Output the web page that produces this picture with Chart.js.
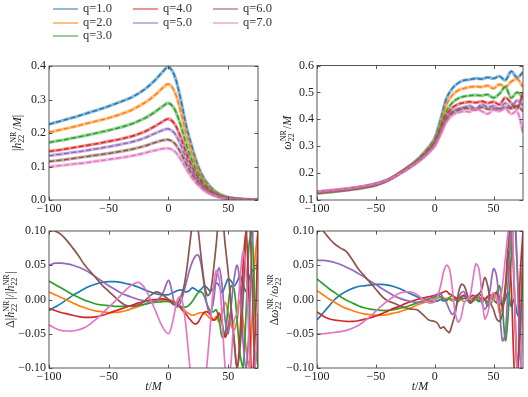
<!DOCTYPE html>
<html>
<head>
<meta charset="utf-8">
<script src="https://cdn.jsdelivr.net/npm/chart.js@4.4.1/dist/chart.umd.min.js"></script>
<style>
  body { margin: 0; background: #fff; }
  #wrap { position: relative; width: 528px; height: 397px; overflow: hidden; }
  #wrap canvas { position: absolute; left: 0; top: 0; }
  .leg { position: absolute; font-family: "Liberation Serif", "DejaVu Serif", serif; font-size: 12.5px; color: #333; line-height: 12px; white-space: nowrap; }
  .leg span { display: inline-block; width: 25px; height: 0; border-top: 2px solid; vertical-align: middle; margin-right: 5px; }
</style>
</head>
<body>
<div id="wrap">
  <canvas id="amp" width="528" height="397"></canvas>
  <canvas id="freq" width="528" height="397"></canvas>
  <canvas id="dAmp" width="528" height="397"></canvas>
  <canvas id="dFreq" width="528" height="397"></canvas>
</div>
<script>
const labels = ['q=1.0', 'q=2.0', 'q=3.0', 'q=4.0', 'q=5.0', 'q=6.0', 'q=7.0'];
const colors = ['#1f77b4', '#ff7f0e', '#2ca02c', '#d62728', '#9467bd', '#8c564b', '#e377c2'];

// time samples (t/M)
const tTop = [-100, -90, -80, -70, -60, -50, -40, -30, -20, -15, -10, -5, 0, 5, 10, 15, 20, 25, 30, 35, 40, 45, 50, 55, 60, 65, 70, 75];
const tBot = [-100, -95, -90, -85, -80, -75, -70, -65, -60, -55, -50, -45, -40, -35, -30, -25, -20, -15, -10, -5,
  0, 2.5, 5, 7.5, 10, 12.5, 15, 17.5, 20, 22.5, 25, 27.5, 30, 32.5, 35, 37.5, 40, 42.5, 45, 47.5, 50, 52.5, 55, 57.5, 60, 62.5, 65, 67.5, 70, 72.5, 75];

// |h22| / M
const amp1 = [0.226, 0.236, 0.246, 0.257, 0.268, 0.280, 0.293, 0.308, 0.330, 0.345, 0.362, 0.382, 0.397, 0.372, 0.305, 0.22, 0.155, 0.1, 0.063, 0.04, 0.024, 0.014, 0.008, 0.005, 0.003, 0.002, 0.001, 0.001];
const amp2 = [0.202, 0.210, 0.218, 0.227, 0.236, 0.245, 0.256, 0.270, 0.290, 0.302, 0.317, 0.334, 0.346, 0.325, 0.268, 0.195, 0.137, 0.09, 0.056, 0.035, 0.021, 0.012, 0.007, 0.004, 0.003, 0.002, 0.001, 0.001];
const amp3 = [0.172, 0.178, 0.185, 0.192, 0.200, 0.208, 0.217, 0.228, 0.244, 0.254, 0.266, 0.279, 0.289, 0.272, 0.226, 0.165, 0.116, 0.077, 0.048, 0.03, 0.018, 0.01, 0.006, 0.004, 0.002, 0.001, 0.001, 0.001];
const amp4 = [0.145, 0.150, 0.156, 0.162, 0.168, 0.175, 0.182, 0.191, 0.204, 0.213, 0.223, 0.234, 0.242, 0.228, 0.19, 0.14, 0.098, 0.065, 0.041, 0.026, 0.015, 0.009, 0.005, 0.003, 0.002, 0.001, 0.001, 0.001];
const amp5 = [0.132, 0.137, 0.142, 0.147, 0.153, 0.159, 0.166, 0.174, 0.185, 0.193, 0.201, 0.208, 0.212, 0.2, 0.167, 0.123, 0.087, 0.058, 0.037, 0.023, 0.014, 0.008, 0.005, 0.003, 0.002, 0.001, 0.001, 0.001];
const amp6 = [0.115, 0.119, 0.124, 0.129, 0.134, 0.139, 0.145, 0.152, 0.161, 0.167, 0.173, 0.178, 0.18, 0.17, 0.143, 0.106, 0.075, 0.05, 0.032, 0.02, 0.012, 0.007, 0.004, 0.002, 0.001, 0.001, 0.001, 0.001];
const amp7 = [0.099, 0.103, 0.107, 0.111, 0.116, 0.121, 0.126, 0.132, 0.140, 0.145, 0.149, 0.153, 0.154, 0.146, 0.123, 0.092, 0.065, 0.044, 0.028, 0.018, 0.011, 0.006, 0.004, 0.002, 0.001, 0.001, 0.001, 0.001];

// omega22 * M
const omega1 = [0.125, 0.129, 0.134, 0.139, 0.146, 0.155, 0.172, 0.2, 0.232, 0.25, 0.272, 0.298, 0.33, 0.4, 0.478, 0.515, 0.535, 0.545, 0.548, 0.552, 0.550, 0.556, 0.552, 0.560, 0.545, 0.578, 0.555, 0.575];
const omega2 = [0.126, 0.130, 0.135, 0.140, 0.147, 0.156, 0.173, 0.2, 0.23, 0.247, 0.268, 0.293, 0.322, 0.385, 0.455, 0.49, 0.508, 0.515, 0.52, 0.522, 0.52, 0.525, 0.515, 0.53, 0.52, 0.54, 0.55, 0.52];
const omega3 = [0.127, 0.131, 0.136, 0.141, 0.148, 0.157, 0.173, 0.199, 0.228, 0.245, 0.265, 0.289, 0.316, 0.372, 0.43, 0.462, 0.478, 0.485, 0.488, 0.49, 0.488, 0.492, 0.48, 0.495, 0.52, 0.48, 0.5, 0.48];
const omega4 = [0.128, 0.132, 0.137, 0.142, 0.149, 0.158, 0.174, 0.199, 0.227, 0.243, 0.262, 0.285, 0.311, 0.362, 0.415, 0.443, 0.456, 0.462, 0.465, 0.462, 0.467, 0.46, 0.465, 0.455, 0.48, 0.46, 0.44, 0.5];
const omega5 = [0.129, 0.133, 0.138, 0.143, 0.150, 0.159, 0.174, 0.198, 0.226, 0.242, 0.26, 0.282, 0.307, 0.355, 0.405, 0.43, 0.44, 0.445, 0.45, 0.44, 0.455, 0.445, 0.45, 0.44, 0.46, 0.445, 0.47, 0.45];
const omega6 = [0.13, 0.134, 0.139, 0.144, 0.151, 0.16, 0.175, 0.198, 0.225, 0.24, 0.258, 0.279, 0.303, 0.35, 0.398, 0.423, 0.433, 0.44, 0.44, 0.435, 0.445, 0.438, 0.44, 0.435, 0.445, 0.44, 0.45, 0.43];
const omega7 = [0.131, 0.135, 0.140, 0.145, 0.152, 0.161, 0.175, 0.197, 0.224, 0.239, 0.256, 0.276, 0.3, 0.343, 0.39, 0.415, 0.425, 0.43, 0.428, 0.44, 0.43, 0.42, 0.435, 0.43, 0.44, 0.42, 0.43, 0.35];

// relative amplitude error
const dAmp1 = [-0.016, -0.011, -0.006, 0.0, 0.006, 0.011, 0.016, 0.02, 0.023, 0.025, 0.026, 0.026, 0.025, 0.023, 0.021, 0.018, 0.014, 0.011, 0.008, 0.007,
  0.007, 0.009, 0.011, 0.013, 0.014, 0.013, 0.011, 0.013, 0.017, 0.015, 0.012, 0.015, 0.02, 0.017, 0.012, 0.016, 0.024, 0.02, 0.01, 0.02, 0.03, 0.027, 0.02, 0.026, 0.035, 0.022, 0.012, 0.03, 0.042, 0.045, 0.047];
const dAmp2 = [0.011, 0.007, 0.003, -0.001, -0.005, -0.009, -0.012, -0.015, -0.017, -0.018, -0.019, -0.019, -0.018, -0.016, -0.013, -0.01, -0.007, -0.004, -0.002, -0.001,
  0.0, -0.001, -0.003, -0.006, -0.01, -0.014, -0.018, -0.021, -0.023, -0.022, -0.02, -0.019, -0.02, -0.023, -0.028, -0.03, -0.025, -0.033, -0.02, -0.004, -0.02, -0.038, -0.045, -0.03, 0.0, -0.03, -0.07, -0.097, -0.03, 0.06, 0.1];
const dAmp3 = [0.027, 0.022, 0.017, 0.012, 0.007, 0.003, -0.001, -0.004, -0.007, -0.008, -0.009, -0.01, -0.01, -0.01, -0.009, -0.008, -0.007, -0.005, -0.004, -0.003,
  -0.003, -0.004, -0.006, -0.008, -0.01, -0.011, -0.011, -0.008, -0.003, 0.004, 0.01, 0.011, 0.005, -0.008, -0.016, -0.018, -0.015, -0.03, -0.055, -0.05, -0.01, 0.02, 0.015, -0.03, -0.08, -0.1, -0.02, 0.08, 0.1, -0.02, -0.1];
const dAmp4 = [-0.013, -0.016, -0.019, -0.021, -0.023, -0.025, -0.026, -0.026, -0.025, -0.023, -0.02, -0.017, -0.014, -0.011, -0.008, -0.005, -0.003, -0.001, 0.0, 0.001,
  -0.001, -0.003, -0.005, -0.008, -0.012, -0.017, -0.022, -0.028, -0.033, -0.036, -0.033, -0.025, -0.019, -0.018, -0.022, -0.03, -0.028, -0.02, -0.035, -0.055, -0.04, -0.02, -0.06, -0.1, -0.05, 0.05, 0.1, 0.0, -0.12, -0.05, 0.1];
const dAmp5 = [0.05, 0.053, 0.053, 0.052, 0.05, 0.047, 0.043, 0.038, 0.032, 0.026, 0.02, 0.015, 0.01, 0.006, 0.003, 0.0, -0.002, -0.004, -0.002, 0.008,
  0.028, 0.015, -0.005, -0.011, -0.005, 0.008, 0.025, 0.042, 0.055, 0.063, 0.065, 0.05, 0.02, -0.01, -0.02, -0.005, 0.03, 0.046, 0.02, -0.03, -0.05, -0.01, 0.03, 0.05, 0.02, -0.06, -0.1, -0.04, 0.08, 0.12, 0.1];
const dAmp6 = [0.105, 0.1, 0.095, 0.086, 0.075, 0.063, 0.05, 0.04, 0.03, 0.02, 0.012, 0.004, -0.004, -0.009, -0.01, -0.008, -0.002, 0.006, 0.011, 0.007,
  0.0, -0.005, -0.008, -0.006, 0.002, 0.015, 0.04, 0.075, 0.11, 0.13, 0.1, 0.06, 0.025, 0.006, 0.01, 0.04, 0.08, 0.12, 0.12, 0.08, 0.04, -0.01, -0.06, -0.1, -0.07, 0.0, 0.09, 0.12, 0.03, -0.1, -0.05];
const dAmp7 = [-0.037, -0.042, -0.045, -0.046, -0.046, -0.044, -0.041, -0.035, -0.028, -0.02, -0.011, -0.003, 0.006, 0.015, 0.022, 0.025, 0.017, 0.0, -0.02, -0.04,
  -0.05, -0.04, -0.02, 0.0, 0.004, -0.01, -0.045, -0.09, -0.13, -0.16, -0.17, -0.16, -0.13, -0.09, -0.04, 0.015, 0.042, 0.03, -0.03, -0.1, -0.13, -0.09, -0.03, -0.02, 0.03, 0.07, 0.04, -0.06, -0.13, -0.1, -0.02];

// relative frequency error
const dFreq1 = [-0.03, -0.02, -0.01, 0.0, 0.007, 0.012, 0.016, 0.019, 0.02, 0.021, 0.022, 0.022, 0.021, 0.019, 0.016, 0.012, 0.008, 0.004, 0.001, -0.002,
  -0.003, -0.002, 0.0, -0.002, 0.0, 0.002, -0.001, 0.001, 0.003, 0.0, 0.002, 0.0, -0.003, 0.002, 0.0, -0.003, 0.002, 0.0, -0.004, 0.003, 0.0, -0.005, 0.005, -0.008, 0.0, 0.01, -0.01, 0.0, -0.02, -0.028, -0.032];
const dFreq2 = [0.013, 0.007, 0.001, -0.004, -0.009, -0.013, -0.016, -0.019, -0.021, -0.022, -0.023, -0.023, -0.022, -0.02, -0.018, -0.015, -0.012, -0.008, -0.005, -0.002,
  0.0, 0.002, 0.003, 0.001, 0.002, 0.0, -0.002, 0.001, 0.003, 0.0, -0.003, 0.0, 0.002, -0.002, 0.0, 0.003, -0.004, 0.0, 0.005, -0.005, 0.0, 0.01, -0.02, -0.01, 0.02, 0.05, 0.1, 0.02, -0.1, -0.05, 0.05];
const dFreq3 = [0.03, 0.023, 0.016, 0.01, 0.004, -0.001, -0.005, -0.009, -0.012, -0.014, -0.015, -0.016, -0.016, -0.015, -0.013, -0.011, -0.008, -0.005, -0.002, 0.001,
  0.003, 0.006, 0.004, 0.0, -0.002, 0.003, 0.005, 0.0, -0.003, 0.002, 0.006, 0.0, -0.005, 0.0, 0.005, -0.002, 0.003, 0.0, -0.01, 0.0, 0.005, 0.01, 0.02, -0.01, -0.06, -0.02, 0.06, 0.12, 0.05, -0.05, 0.05];
const dFreq4 = [-0.018, -0.024, -0.028, -0.03, -0.031, -0.032, -0.032, -0.031, -0.029, -0.027, -0.024, -0.021, -0.017, -0.013, -0.01, -0.006, -0.003, 0.0, 0.002, 0.004,
  0.006, 0.008, 0.009, 0.011, 0.012, 0.008, 0.006, 0.003, 0.0, 0.004, 0.006, 0.002, 0.003, 0.006, 0.004, 0.008, 0.005, 0.0, 0.004, 0.006, 0.008, 0.01, 0.0, -0.01, 0.01, 0.07, 0.02, -0.1, -0.15, 0.03, 0.1];
const dFreq5 = [0.057, 0.057, 0.056, 0.054, 0.051, 0.047, 0.043, 0.038, 0.033, 0.027, 0.022, 0.016, 0.011, 0.006, 0.002, -0.001, -0.003, -0.004, -0.003, 0.0,
  0.005, 0.008, 0.008, 0.002, -0.005, -0.015, -0.022, -0.015, 0.0, 0.01, 0.011, 0.002, -0.004, 0.0, 0.006, 0.005, -0.005, -0.014, -0.005, 0.02, 0.045, 0.035, -0.01, -0.06, -0.05, 0.03, 0.1, 0.14, 0.05, -0.08, -0.12];
const dFreq6 = [0.106, 0.1, 0.09, 0.081, 0.075, 0.07, 0.058, 0.045, 0.035, 0.025, 0.015, 0.005, -0.002, -0.005, -0.009, -0.012, -0.014, -0.015, -0.022, -0.03,
  -0.032, -0.035, -0.042, -0.04, -0.045, -0.048, -0.035, -0.02, 0.008, 0.022, 0.02, 0.008, -0.005, -0.002, 0.005, 0.008, 0.015, 0.032, 0.02, -0.005, -0.015, -0.028, -0.032, -0.02, 0.02, 0.08, 0.12, 0.02, -0.1, -0.05, 0.08];
const dFreq7 = [-0.05, -0.05, -0.049, -0.048, -0.047, -0.045, -0.042, -0.038, -0.032, -0.025, -0.017, -0.009, -0.002, 0.004, 0.009, 0.011, 0.011, 0.007, 0.0, -0.005,
  -0.003, 0.005, 0.02, 0.04, 0.05, 0.045, 0.015, -0.02, -0.033, -0.025, -0.005, 0.0, 0.005, 0.03, 0.052, 0.045, 0.01, -0.028, -0.02, 0.0, 0.01, 0.0, -0.005, 0.02, 0.06, 0.1, 0.12, 0.03, -0.1, -0.12, 0.0];

const ampSeries = [amp1, amp2, amp3, amp4, amp5, amp6, amp7];
const omegaSeries = [omega1, omega2, omega3, omega4, omega5, omega6, omega7];
const dAmpSeries = [dAmp1, dAmp2, dAmp3, dAmp4, dAmp5, dAmp6, dAmp7];
const dFreqSeries = [dFreq1, dFreq2, dFreq3, dFreq4, dFreq5, dFreq6, dFreq7];

const FONT = '"Liberation Serif", "DejaVu Serif", serif';

function fade(hex, a) {
  const n = parseInt(hex.slice(1), 16);
  return 'rgba(' + (n >> 16) + ',' + ((n >> 8) & 255) + ',' + (n & 255) + ',' + a + ')';
}

function points(ts, ys) {
  return ts.map((t, i) => ({ x: t, y: ys[i] }));
}

// solid NR (faded, thick) + dashed model on top
function topSets(series) {
  const out = [];
  series.forEach((ys, k) => {
    out.push({ data: points(tTop, ys), borderColor: fade(colors[k], 0.5), borderWidth: 3.2, order: 40 - 2 * k });
    out.push({ data: points(tTop, ys), borderColor: colors[k], borderWidth: 1.4, borderDash: [5, 2.5], order: 39 - 2 * k });
  });
  return out;
}

function botSets(series) {
  return series.map((ys, k) => ({ data: points(tBot, ys), borderColor: colors[k], borderWidth: 1.7, order: 40 - k }));
}

// text pieces: {t, it} or {sup, sub}
function drawPieces(ctx, pieces, size) {
  const main = size + 'px ' + FONT;
  const mainIt = 'italic ' + size + 'px ' + FONT;
  const small = Math.round(size * 0.7) + 'px ' + FONT;
  const widths = pieces.map(p => {
    if (p.sup !== undefined) {
      ctx.font = small;
      return Math.max(ctx.measureText(p.sup).width, ctx.measureText(p.sub).width) + 1;
    }
    ctx.font = p.it ? mainIt : main;
    return ctx.measureText(p.t).width;
  });
  let x = -widths.reduce((a, b) => a + b, 0) / 2;
  ctx.textBaseline = 'middle';
  ctx.textAlign = 'left';
  pieces.forEach((p, i) => {
    if (p.sup !== undefined) {
      ctx.font = small;
      ctx.fillText(p.sup, x, -size * 0.36);
      ctx.fillText(p.sub, x, size * 0.3);
    } else {
      ctx.font = p.it ? mainIt : main;
      ctx.fillText(p.t, x, 0);
    }
    x += widths[i];
  });
}

const frame = {
  id: 'frame',
  afterDatasetsDraw(chart, args, opts) {
    const { ctx, chartArea: a, scales: { x, y } } = chart;
    ctx.save();
    ctx.strokeStyle = '#444';
    ctx.lineWidth = 0.9;
    ctx.strokeRect(a.left, a.top, a.right - a.left, a.bottom - a.top);
    ctx.beginPath();
    x.ticks.forEach(t => {
      const px = Math.round(x.getPixelForValue(t.value)) + 0.5;
      ctx.moveTo(px, a.bottom); ctx.lineTo(px, a.bottom - 3.5);
      ctx.moveTo(px, a.top); ctx.lineTo(px, a.top + 3.5);
    });
    y.ticks.forEach(t => {
      const py = Math.round(y.getPixelForValue(t.value)) + 0.5;
      ctx.moveTo(a.left, py); ctx.lineTo(a.left + 3.5, py);
      ctx.moveTo(a.right, py); ctx.lineTo(a.right - 3.5, py);
    });
    ctx.stroke();

    ctx.fillStyle = '#222';
    ctx.save();
    ctx.translate(opts.yLabelX, (a.top + a.bottom) / 2);
    ctx.rotate(-Math.PI / 2);
    drawPieces(ctx, opts.yLabel, 12);
    ctx.restore();
    if (opts.xLabel) {
      ctx.save();
      ctx.translate((a.left + a.right) / 2, 387);
      drawPieces(ctx, opts.xLabel, 12);
      ctx.restore();
    }
    ctx.restore();
  }
};

function fmt(d) {
  return v => {
    if (Math.abs(v) < 1e-9) v = 0;
    return (v < 0 ? '\u2212' : '') + Math.abs(v).toFixed(d);
  };
}

function panel(id, area, yMin, yMax, yStep, dec, datasets, yLabel, yLabelX, xLabel) {
  const axisW = 40, axisH = 20;
  new Chart(document.getElementById(id), {
    type: 'line',
    data: { datasets },
    options: {
      responsive: false,
      animation: false,
      events: [],
      layout: { padding: { left: area.left - axisW, right: 528 - area.right, top: area.top, bottom: 397 - area.bottom - axisH } },
      elements: { point: { radius: 0 }, line: { tension: 0.35, fill: false } },
      plugins: {
        legend: { display: false },
        tooltip: { enabled: false },
        frame: { yLabel, yLabelX, xLabel }
      },
      scales: {
        x: {
          type: 'linear', min: -100, max: 75,
          grid: { display: false, drawTicks: false }, border: { display: false },
          afterFit: s => { s.height = axisH; },
          ticks: { stepSize: 50, includeBounds: false, maxRotation: 0, padding: 2, color: '#222', font: { family: FONT, size: 12 }, callback: fmt(0) }
        },
        y: {
          min: yMin, max: yMax,
          grid: { display: false, drawTicks: false }, border: { display: false },
          afterFit: s => { s.width = axisW; },
          ticks: { stepSize: yStep, padding: 3, color: '#222', font: { family: FONT, size: 12 }, callback: fmt(dec) }
        }
      }
    },
    plugins: [frame]
  });
}

const tM = [{ t: 't', it: true }, { t: '/' }, { t: 'M', it: true }];

panel('amp', { left: 49, right: 258, top: 66, bottom: 200 }, 0, 0.4, 0.1, 1, topSets(ampSeries),
  [{ t: '|' }, { t: 'h', it: true }, { sup: 'NR', sub: '22' }, { t: '/' }, { t: 'M', it: true }, { t: '|' }], 18, null);
panel('freq', { left: 317, right: 523, top: 65.5, bottom: 200 }, 0.1, 0.6, 0.1, 1, topSets(omegaSeries),
  [{ t: '\u03c9', it: true }, { sup: 'NR', sub: '22' }, { t: '/' }, { t: 'M', it: true }], 288, null);
panel('dAmp', { left: 49, right: 258, top: 231, bottom: 368 }, -0.1, 0.1, 0.05, 2, botSets(dAmpSeries),
  [{ t: '\u0394|' }, { t: 'h', it: true }, { sup: 'NR', sub: '22' }, { t: '|/|' }, { t: 'h', it: true }, { sup: 'NR', sub: '22' }, { t: '|' }], 11, tM);
panel('dFreq', { left: 317, right: 523, top: 231, bottom: 368 }, -0.1, 0.1, 0.05, 2, botSets(dFreqSeries),
  [{ t: '\u0394' }, { t: '\u03c9', it: true }, { sup: 'NR', sub: '22' }, { t: '/' }, { t: '\u03c9', it: true }, { sup: 'NR', sub: '22' }], 275, tM);

// legend
const legCols = [53, 133, 213];
const legRows = [2, 15.5, 28.5];
const legend = document.getElementById('wrap');
labels.forEach((lab, k) => {
  const col = k < 3 ? 0 : (k < 5 ? 1 : 2);
  const row = k < 3 ? k : (k < 5 ? k - 3 : k - 5);
  const d = document.createElement('div');
  d.className = 'leg';
  d.style.left = legCols[col] + 'px';
  d.style.top = legRows[row] + 'px';
  d.innerHTML = '<span style="border-color:' + fade(colors[k], 0.5) + '"></span>' + lab;
  legend.appendChild(d);
});
</script>
</body>
</html>
